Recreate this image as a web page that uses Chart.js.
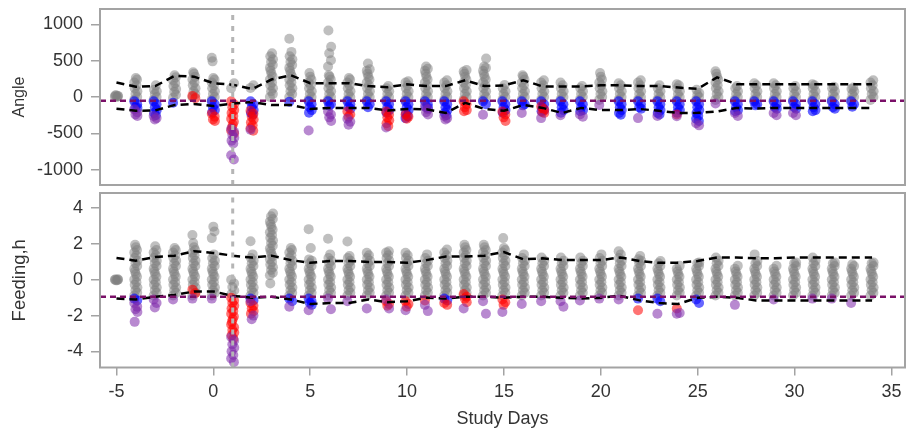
<!DOCTYPE html>
<html>
<head>
<meta charset="utf-8">
<script src="https://cdn.jsdelivr.net/npm/chart.js@4.4.0/dist/chart.umd.min.js"></script>
<style>
  html, body { margin: 0; padding: 0; background: #fff; }
  #wrap { position: relative; width: 910px; height: 434px; }
  canvas { position: absolute; left: 0; }
  #angle { top: 0; }
  #feed { top: 188px; }
</style>
</head>
<body>
<div id="wrap">
  <canvas id="angle" width="910" height="190"></canvas>
  <canvas id="feed" width="910" height="246"></canvas>
</div>
<script>
// study days, one strip per day
const days = [-5, -4, -3, -2, -1, 0, 1, 2, 3, 4, 5, 6, 7, 8, 9, 10, 11, 12, 13, 14,
  15, 16, 17, 18, 19, 20, 21, 22, 23, 24, 25, 26, 27, 28, 29, 30, 31, 32, 33, 34];

const xTicks = [-5, 0, 5, 10, 15, 20, 25, 30, 35];
const angleTicks = [-1000, -500, 0, 500, 1000];
const feedTicks = [-4, -2, 0, 2, 4];

const markDay = 1;
const angleCut = -50;
const feedCut = -0.95;

// Angle values per day (one list per day)
const angleGrey = [
  [5, 15, 25, 10, 20, 0],
  [-40, 0, 40, 80, 120, 160, 200, 240, 260],
  [-40, 0, 40, 80, 100, 160],
  [-10, 30, 70, 110, 150, 190, 230, 270, 300],
  [0, 40, 80, 120, 160, 200, 240, 280, 320, 340],
  [-40, 0, 40, 80, 120, 160, 200, 240, 260, 490, 540],
  [120, 190],
  [125, 160],
  [0, 40, 80, 120, 160, 200, 240, 280, 320, 360, 400, 440, 480, 520, 560, 600],
  [0, 40, 80, 120, 160, 200, 240, 280, 320, 360, 400, 440, 480, 520, 560, 620, 800],
  [-40, 0, 40, 80, 120, 160, 200, 240, 280, 330],
  [-40, 0, 40, 80, 120, 160, 200, 240, 280, 300, 420, 505, 600, 690, 915],
  [-40, 0, 40, 80, 120, 160, 200, 240, 260],
  [-40, 0, 40, 80, 120, 160, 200, 240, 280, 320, 360, 380, 460],
  [-40, 0, 40, 80, 120, 150],
  [-40, 0, 40, 80, 120, 160, 200, 215],
  [-40, 0, 40, 80, 120, 160, 200, 240, 280, 320, 360, 390, 420],
  [-40, 0, 40, 80, 120, 160, 200, 230],
  [-40, 0, 40, 80, 120, 160, 200, 240, 280, 320, 350, 370],
  [-40, 0, 40, 80, 120, 160, 200, 240, 280, 320, 360, 400, 420, 530],
  [-40, 0, 40, 80, 120, 165],
  [-40, 0, 40, 80, 120, 160, 200, 240, 280, 300],
  [-40, 0, 40, 80, 120, 160, 200, 230],
  [-40, 0, 40, 80, 120, 160, 200],
  [-40, 0, 40, 80, 120, 150],
  [-40, 0, 40, 80, 120, 160, 200, 240, 280, 330],
  [-40, 0, 40, 80, 120, 160, 190],
  [-40, 0, 40, 80, 120, 160, 200, 230],
  [-40, 0, 40, 80, 120, 160],
  [-40, 0, 40, 80, 120, 160, 175],
  [-40, 0, 30, 55, 100],
  [-40, 0, 40, 80, 120, 160, 200, 240, 280, 320, 355],
  [-40, 0, 40, 80, 120, 150],
  [-40, 0, 40, 80, 120, 160, 190],
  [-40, 0, 40, 80, 120, 160, 190],
  [-40, 0, 40, 80, 120, 150],
  [-40, 0, 40, 80, 120, 160, 175],
  [-40, 0, 40, 80, 120, 140],
  [-40, 0, 40, 80, 110, 130],
  [-40, 0, 40, 80, 120, 160, 200, 230]
];
const angleBlue = [
  [], [-60, -100, -140, -150], [-60, -100, -140, -180, -220, -250], [-80], [],
  [-60, -100, -140, -180, -210], [], [-60, -100, -140, -180, -220, -245], [], [-65],
  [-60, -100, -140, -180, -215], [-60, -100, -120], [-60, -100, -140, -160], [-60, -100, -140], [-60, -100, -140, -180, -215],
  [-60, -100, -140, -180, -220, -260, -290], [-60, -100, -140, -150], [-60, -100, -140, -180, -220, -250], [], [-60, -100],
  [-60, -100, -140, -180, -215], [-60, -100, -115], [-60, -100, -140, -180, -195], [-60, -100, -140, -180, -215], [-60, -100, -140, -180, -195],
  [], [-60, -100, -140, -180, -220, -245], [-60, -100, -140, -160], [-60, -100, -140, -180, -220, -240], [-60, -100, -140, -180, -215],
  [-60, -100, -140, -180, -220, -260, -300, -330], [], [-60, -100, -140, -180, -195], [-60, -100, -115], [-60, -100, -140, -160],
  [-60, -100, -140, -160], [-60, -100, -140, -180, -195], [-60, -100, -140, -160], [-60, -100, -135], []
];
const angleRed = [
  [], [], [], [], [15, -15],
  [-230, -270, -310, -330], [-60, -100, -140, -180, -220, -260, -300, -340, -380, -420, -460, -500],
  [-190, -230, -270, -310, -350, -390, -430, -465], [], [],
  [], [], [-200, -240, -270], [], [-200, -240, -280, -320, -360, -400],
  [-240, -270, -300], [], [], [-60, -100, -140, -180, -195], [],
  [-200, -240, -280, -330], [], [-130, -170, -210, -220], [], [],
  [], [], [], [], [-240],
  [], [], [], [], [], [], [], [], [], []
];
const anglePurple = [
  [], [-170, -210, -240, -260], [-260, -290, -310], [], [],
  [], [-440, -480, -520, -560, -600, -640, -800, -860], [-450], [], [],
  [-460], [-200, -240, -280, -330], [-300, -340, -380], [], [-420],
  [], [-130, -170, -210, -240], [-260, -290, -310], [], [-245],
  [], [-220], [-290], [-250], [-240, -270],
  [-110], [], [-290], [-260], [-265],
  [-360, -390], [-90], [-220, -260], [], [-220, -250],
  [-220, -250], [], [], [], []
];
const angleUpper = [200, 140, 150, 290, 280, 190, 170, 110, 240, 300, 190, 190, 190, 150, 135, 175, 150, 150, 230, 150,
  160, 230, 145, 145, 145, 160, 160, 150, 150, 130, 113, 270, 177, 177, 177, 177, 177, 177, 177, 177];
const angleLower = [-160, -190, -185, -110, -95, -125, -90, -70, -110, -110, -165, -150, -150, -150, -185, -165, -170, -220, -80, -165,
  -190, -110, -150, -220, -150, -180, -180, -165, -190, -220, -218, -200, -150, -160, -150, -150, -150, -150, -150, -150];

// Feeding (h) values per day
const feedGrey = [
  [0, 0.03, -0.03, 0, 0.02, -0.02],
  [-0.88, -0.73, -0.58, -0.43, -0.28, -0.13, 0.02, 0.17, 0.32, 0.47, 0.62, 0.77, 0.92, 1.07, 1.22, 1.37, 1.52, 1.67, 1.82, 1.96],
  [-0.88, -0.73, -0.58, -0.43, -0.28, -0.13, 0.02, 0.17, 0.32, 0.47, 0.62, 0.77, 0.92, 1.07, 1.22, 1.37, 1.52, 1.67, 1.87],
  [-0.88, -0.73, -0.58, -0.43, -0.28, -0.13, 0.02, 0.17, 0.32, 0.47, 0.62, 0.77, 0.92, 1.07, 1.22, 1.37, 1.52, 1.67, 1.78],
  [-0.88, -0.73, -0.58, -0.43, -0.28, -0.13, 0.02, 0.17, 0.32, 0.47, 0.62, 0.77, 0.92, 1.07, 1.22, 1.37, 1.52, 1.67, 1.82, 2.05, 2.5],
  [-0.88, -0.73, -0.58, -0.43, -0.28, -0.13, 0.02, 0.17, 0.32, 0.47, 0.62, 0.77, 0.92, 1.07, 1.22, 1.42, 2.33, 2.7, 2.97],
  [0, -0.2, -0.4, -0.6, -0.8],
  [-0.88, -0.73, -0.58, -0.43, -0.28, -0.13, 0.02, 0.17, 0.32, 0.47, 0.62, 0.77, 0.92, 1.07, 1.22, 1.42, 2.15],
  [0.25, 0.4, 0.55, 0.7, 0.85, 1.0, 1.15, 1.3, 1.45, 1.6, 1.75, 1.9, 2.05, 2.2, 2.35, 2.5, 2.65, 2.8, 2.95, 3.1, 3.25, 3.4, 3.55, 3.7, -0.2],
  [-0.88, -0.73, -0.58, -0.43, -0.28, -0.13, 0.02, 0.17, 0.32, 0.47, 0.62, 0.77, 0.92, 1.07, 1.22, 1.37, 1.52, 1.67, 1.78],
  [-0.88, -0.73, -0.58, -0.43, -0.28, -0.13, 0.02, 0.17, 0.32, 0.47, 0.62, 0.77, 0.92, 1.07, 1.14, 1.78, 2.83],
  [-0.88, -0.73, -0.58, -0.43, -0.28, -0.13, 0.02, 0.17, 0.32, 0.47, 0.62, 0.77, 0.92, 1.07, 1.22, 1.42, 2.29],
  [-0.88, -0.73, -0.58, -0.43, -0.28, -0.13, 0.02, 0.17, 0.32, 0.47, 0.62, 0.77, 0.92, 1.07, 1.22, 1.33, 2.14],
  [-0.88, -0.73, -0.58, -0.43, -0.28, -0.13, 0.02, 0.17, 0.32, 0.47, 0.62, 0.77, 0.92, 1.07, 1.22, 1.37, 1.51],
  [-0.88, -0.73, -0.58, -0.43, -0.28, -0.13, 0.02, 0.17, 0.32, 0.47, 0.62, 0.77, 0.92, 1.07, 1.22, 1.37, 1.52, 1.6],
  [-0.88, -0.73, -0.58, -0.43, -0.28, -0.13, 0.02, 0.17, 0.32, 0.47, 0.62, 0.77, 0.92, 1.07, 1.22, 1.37, 1.51],
  [-0.88, -0.73, -0.58, -0.43, -0.28, -0.13, 0.02, 0.17, 0.32, 0.47, 0.62, 0.77, 0.92, 1.07, 1.22, 1.42],
  [-0.88, -0.73, -0.58, -0.43, -0.28, -0.13, 0.02, 0.17, 0.32, 0.47, 0.62, 0.77, 0.92, 1.07, 1.22, 1.37, 1.52, 1.69],
  [-0.88, -0.73, -0.58, -0.43, -0.28, -0.13, 0.02, 0.17, 0.32, 0.47, 0.62, 0.77, 0.92, 1.07, 1.22, 1.37, 1.52, 1.67, 1.82, 1.96],
  [-0.88, -0.73, -0.58, -0.43, -0.28, -0.13, 0.02, 0.17, 0.32, 0.47, 0.62, 0.77, 0.92, 1.07, 1.22, 1.37, 1.52, 1.67, 1.82, 1.96],
  [-0.88, -0.73, -0.58, -0.43, -0.28, -0.13, 0.02, 0.17, 0.32, 0.47, 0.62, 0.77, 0.92, 1.07, 1.22, 1.37, 1.52, 1.67, 1.78, 2.33],
  [-0.88, -0.73, -0.58, -0.43, -0.28, -0.13, 0.02, 0.17, 0.32, 0.47, 0.62, 0.77, 0.92, 1.07, 1.22, 1.42],
  [-0.88, -0.73, -0.58, -0.43, -0.28, -0.13, 0.02, 0.17, 0.32, 0.47, 0.62, 0.77, 0.92, 1.07, 1.24],
  [-0.88, -0.73, -0.58, -0.43, -0.28, -0.13, 0.02, 0.17, 0.32, 0.47, 0.62, 0.77, 0.92, 1.07, 1.24],
  [-0.88, -0.73, -0.58, -0.43, -0.28, -0.13, 0.02, 0.17, 0.32, 0.47, 0.62, 0.77, 0.92, 1.07, 1.24],
  [-0.88, -0.73, -0.58, -0.43, -0.28, -0.13, 0.02, 0.17, 0.32, 0.47, 0.62, 0.77, 0.92, 1.07, 1.22, 1.42],
  [-0.88, -0.73, -0.58, -0.43, -0.28, -0.13, 0.02, 0.17, 0.32, 0.47, 0.62, 0.77, 0.92, 1.07, 1.22, 1.42, 1.6],
  [-0.88, -0.73, -0.58, -0.43, -0.28, -0.13, 0.02, 0.17, 0.32, 0.47, 0.62, 0.77, 0.92, 1.07, 1.15, 1.33],
  [-0.88, -0.73, -0.58, -0.43, -0.28, -0.13, 0.02, 0.17, 0.32, 0.47, 0.62, 0.77, 0.92, 1.05],
  [-0.88, -0.73, -0.58, -0.43, -0.28, -0.13, 0.02, 0.17, 0.32, 0.47, 0.62, 0.78],
  [-0.88, -0.73, -0.58, -0.43, -0.28, -0.13, 0.02, 0.17, 0.32, 0.47, 0.62, 0.77, 0.92, 0.96],
  [-0.88, -0.73, -0.58, -0.43, -0.28, -0.13, 0.02, 0.17, 0.32, 0.47, 0.62, 0.77, 0.92, 1.07, 1.24],
  [-0.88, -0.73, -0.58, -0.43, -0.28, -0.13, 0.02, 0.17, 0.32, 0.47, 0.62, 0.78],
  [-0.88, -0.73, -0.58, -0.43, -0.28, -0.13, 0.02, 0.17, 0.32, 0.47, 0.62, 0.77, 0.92, 1.05, 1.42],
  [-0.88, -0.73, -0.58, -0.43, -0.28, -0.13, 0.02, 0.17, 0.32, 0.47, 0.62, 0.78],
  [-0.88, -0.73, -0.58, -0.43, -0.28, -0.13, 0.02, 0.17, 0.32, 0.47, 0.62, 0.77, 0.92, 0.96],
  [-0.88, -0.73, -0.58, -0.43, -0.28, -0.13, 0.02, 0.17, 0.32, 0.47, 0.62, 0.77, 0.92, 1.07, 1.24],
  [-0.88, -0.73, -0.58, -0.43, -0.28, -0.13, 0.02, 0.17, 0.32, 0.47, 0.62, 0.77, 0.92, 0.96],
  [-0.88, -0.73, -0.58, -0.43, -0.28, -0.13, 0.02, 0.17, 0.32, 0.47, 0.62, 0.77, 0.87],
  [-0.88, -0.73, -0.58, -0.43, -0.28, -0.13, 0.02, 0.17, 0.32, 0.47, 0.62, 0.77, 0.92, 0.96]
];
const feedBlue = [
  [], [-1.05, -1.15], [], [], [],
  [], [], [-1.05, -1.15], [], [-1.05, -1.2],
  [-1.05, -1.2, -1.3, -1.4], [], [], [], [],
  [], [], [-1.05, -1.15], [], [],
  [], [], [], [], [],
  [], [], [-1.05], [-1.05, -1.2], [],
  [-1.1, -1.3], [], [], [], [], [], [], [], [], []
];
const feedRed = [
  [], [], [], [], [-0.55, -0.75],
  [], [-1.0, -1.15, -1.3, -1.45, -1.6, -1.75, -1.9, -2.05, -2.2, -2.35, -2.5, -2.65, -2.8, -2.95, -3.1, -3.3],
  [-1.3, -1.45, -1.6, -1.75, -1.9], [], [],
  [], [], [], [], [-1.2, -1.35, -1.45],
  [-1.2, -1.35, -1.5], [-1.15], [-1.3, -1.4], [-0.8, -0.95, -1.05, -1.25], [],
  [-1.1, -1.25, -1.4], [], [], [], [],
  [], [], [-1.7], [], [-1.6],
  [], [], [], [], [], [], [], [], [], []
];
const feedPurple = [
  [], [-1.3, -1.5, -1.65, -1.8, -2.35], [-1.1, -1.3, -1.55], [-1.1], [-1.05],
  [-1.05], [-3.2, -3.4, -3.6, -3.8, -4.0, -4.2, -4.4, -4.6], [-1.2, -2.0, -2.2], [], [-1.5],
  [-1.7], [-1.05, -1.65], [-1.2], [-1.6], [-1.1, -1.6],
  [-1.7], [-1.4, -1.75], [], [-1.6], [-1.2, -1.9],
  [-1.8], [-1.35], [-1.2], [-1.2, -1.5], [-1.15],
  [-1.05], [-1.1], [], [-1.9], [-1.9, -1.85],
  [], [], [-1.4], [], [-1.1],
  [], [-1.05], [-1.05], [-1.3], []
];
const feedUpper = [1.22, 1.07, 1.28, 1.35, 1.6, 1.5, 1.35, 1.24, 1.35, 1.1, 0.95, 1.05, 1.05, 1.0, 1.0, 0.95, 1.1, 1.3, 1.3, 1.35,
  1.55, 1.15, 1.2, 1.1, 1.1, 1.1, 1.25, 1.05, 0.95, 0.95, 1.05, 1.25, 1.25, 1.2, 1.2, 1.25, 1.25, 1.25, 1.25, 1.25];
const feedLower = [-1.05, -1.1, -0.95, -0.85, -0.65, -0.65, -0.9, -1.0, -0.95, -1.1, -1.35, -1.3, -1.3, -1.1, -1.25, -1.2, -1.0, -1.05, -0.95, -0.95,
  -1.0, -0.95, -0.95, -1.0, -1.05, -1.0, -0.9, -1.15, -1.3, -1.35, -1.0, -0.95, -1.0, -1.15, -1.15, -1.15, -1.15, -1.15, -1.15, -1.15];

// horizontal spread of the dots inside a day strip (in days)
const jitter = [-0.08, 0.07, -0.02, 0.08, -0.06, 0.03, -0.08, 0.06, 0.0, -0.04];
const xMin = -5.85, xMax = 35.7;

const fontFamily = "'Liberation Sans', Arial, sans-serif";
const tickFont = { family: fontFamily, size: 18 };
const textColor = '#333333';
const frameColor = '#a3a3a3';

function strip(lists) {
  const pts = [];
  lists.forEach((vals, i) => {
    vals.forEach((v, k) => pts.push({ x: days[i] + jitter[k % jitter.length], y: v }));
  });
  return pts;
}

function bound(vals) {
  return vals.map((v, i) => ({ x: days[i], y: v }));
}

const framePlugin = {
  id: 'frame',
  afterDraw(chart) {
    const { ctx, chartArea: a } = chart;
    ctx.save();
    ctx.strokeStyle = frameColor;
    ctx.lineWidth = 2;
    ctx.strokeRect(a.left, a.top, a.right - a.left, a.bottom - a.top);
    ctx.restore();
  }
};

function dots(data, color) {
  return {
    data: data,
    pointRadius: 5,
    pointBackgroundColor: color,
    pointBorderWidth: 0,
    pointBorderColor: color,
    showLine: false
  };
}

function line(data, color, width, dash) {
  return {
    data: data,
    showLine: true,
    borderColor: color,
    borderWidth: width,
    borderDash: dash,
    pointRadius: 0,
    tension: 0
  };
}

function datasets(grey, blue, red, purple, upper, lower, cut, yMin, yMax) {
  return [
    line([{ x: markDay, y: yMin }, { x: markDay, y: yMax }], '#b5b5b5', 3, [5, 6]),
    line([{ x: xMin, y: cut }, { x: xMax, y: cut }], '#7a1068', 2.5, [6, 4]),
    line(bound(upper), '#000000', 2.5, [8, 5]),
    line(bound(lower), '#000000', 2.5, [8, 5]),
    dots(strip(purple), 'rgba(125,40,170,0.55)'),
    dots(strip(red), 'rgba(255,0,0,0.55)'),
    dots(strip(blue), 'rgba(0,0,255,0.6)'),
    dots(strip(grey), 'rgba(128,128,128,0.5)')
  ];
}

function yScale(min, max, ticks, title, titleSize, titlePad) {
  return {
    type: 'linear',
    min: min,
    max: max,
    afterFit: s => { s.width = 100; s.paddingTop = 0; s.paddingBottom = 0; },
    afterBuildTicks: s => { s.ticks = ticks.map(v => ({ value: v })); },
    border: { display: false },
    grid: { drawOnChartArea: false, tickLength: 9, color: frameColor, lineWidth: 1.5 },
    ticks: { padding: 8, color: textColor, font: tickFont, callback: v => String(v) },
    title: {
      display: true, text: title, color: textColor,
      font: { family: fontFamily, size: titleSize },
      padding: { top: titlePad, bottom: 0 }
    }
  };
}

const baseOptions = {
  responsive: false,
  animation: false,
  events: [],
  plugins: { legend: { display: false }, tooltip: { enabled: false } }
};

new Chart(document.getElementById('angle').getContext('2d'), {
  type: 'scatter',
  data: { datasets: datasets(angleGrey, angleBlue, angleRed, anglePurple, angleUpper, angleLower, angleCut, -1210, 1210) },
  options: Object.assign({}, baseOptions, {
    layout: { padding: { top: 9, right: 2, bottom: 2, left: 0 } },
    scales: {
      x: { type: 'linear', min: xMin, max: xMax, display: false },
      y: yScale(-1210, 1210, angleTicks, 'Angle', 16, 10)
    }
  }),
  plugins: [framePlugin]
});

new Chart(document.getElementById('feed').getContext('2d'), {
  type: 'scatter',
  data: { datasets: datasets(feedGrey, feedBlue, feedRed, feedPurple, feedUpper, feedLower, feedCut, -4.9, 4.85) },
  options: Object.assign({}, baseOptions, {
    layout: { padding: { top: 1, right: 2, bottom: 0, left: 0 } },
    scales: {
      x: {
        type: 'linear',
        min: xMin,
        max: xMax,
        afterFit: s => { s.height = 66.5; s.paddingLeft = 0; s.paddingRight = 0; },
        afterBuildTicks: s => { s.ticks = xTicks.map(v => ({ value: v })); },
        border: { display: false },
        grid: { drawOnChartArea: false, tickLength: 8, color: frameColor, lineWidth: 1.5 },
        ticks: { padding: 6, color: textColor, font: tickFont, maxRotation: 0, callback: v => String(v) },
        title: {
          display: true, text: 'Study Days', color: textColor,
          font: { family: fontFamily, size: 18 },
          padding: { top: 0, bottom: 4 }
        }
      },
      y: yScale(-4.9, 4.85, feedTicks, 'Feeding,h', 18.5, 9)
    }
  }),
  plugins: [framePlugin]
});
</script>
</body>
</html>
